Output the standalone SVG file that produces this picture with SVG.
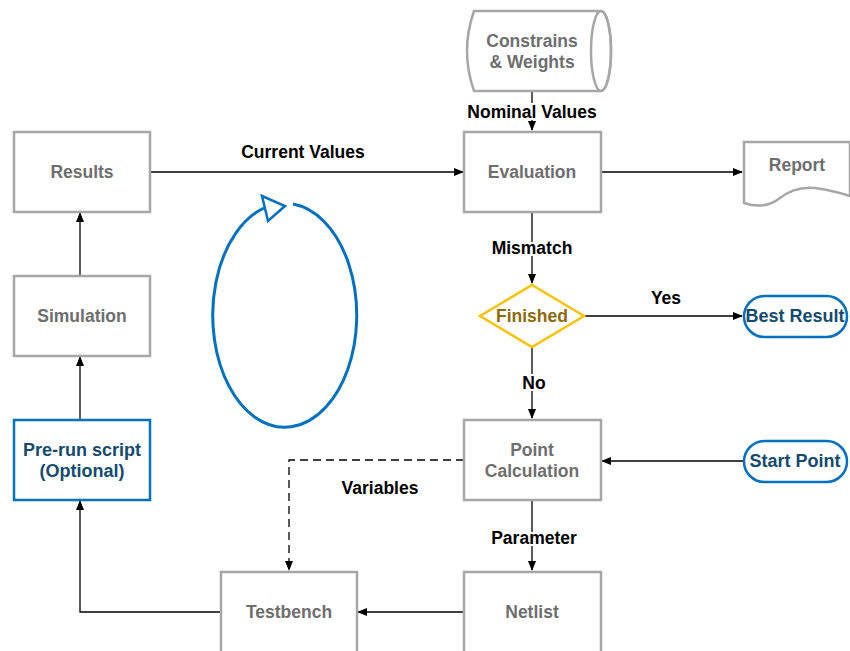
<svg xmlns="http://www.w3.org/2000/svg" width="850" height="651" viewBox="0 0 850 651">
<style>
.box{fill:#fff;stroke:#A6A6A6;stroke-width:2.5}
.blue{fill:#fff;stroke:#0070C0;stroke-width:2.5}
.gt{font-family:"Liberation Sans",Arial,sans-serif;font-weight:bold;font-size:17.5px;fill:#6E6E6E;text-anchor:middle}
.bt{font-family:"Liberation Sans",Arial,sans-serif;font-weight:bold;font-size:18px;fill:#134A6E;text-anchor:middle}
.lbl{font-family:"Liberation Sans",Arial,sans-serif;font-weight:bold;font-size:17.5px;fill:#000;text-anchor:middle;stroke:#fff;stroke-width:4;paint-order:stroke}
.c{fill:none;stroke:#000;stroke-width:1.3}
</style>
<defs>
<marker id="ah" markerWidth="10" markerHeight="10" refX="9" refY="5" orient="auto" markerUnits="userSpaceOnUse">
<path d="M0,1 L10,5 L0,9 Z" fill="#000"/>
</marker>
</defs>
<rect width="850" height="651" fill="#fff"/>
<g id="connectors">
<path class="c" d="M532,92 V130" marker-end="url(#ah)"/>
<path class="c" d="M150,172 H463" marker-end="url(#ah)"/>
<path class="c" d="M601,172 H742" marker-end="url(#ah)"/>
<path class="c" d="M532,212 V283" marker-end="url(#ah)"/>
<path class="c" d="M585,316 H742" marker-end="url(#ah)"/>
<path class="c" d="M532,348 V418" marker-end="url(#ah)"/>
<path class="c" d="M743,461 H602" marker-end="url(#ah)"/>
<path class="c" d="M464,460 H289 V570" stroke-dasharray="8,5" marker-end="url(#ah)"/>
<path class="c" d="M532,500 V570" marker-end="url(#ah)"/>
<path class="c" d="M464,612 H358" marker-end="url(#ah)"/>
<path class="c" d="M221,612 H80 V501" marker-end="url(#ah)"/>
<path class="c" d="M80,419 V357" marker-end="url(#ah)"/>
<path class="c" d="M80,276 V213" marker-end="url(#ah)"/>
<text class="lbl" x="532" y="118">Nominal Values</text>
<text class="lbl" x="303" y="158">Current Values</text>
<text class="lbl" x="532" y="254">Mismatch</text>
<text class="lbl" x="666" y="304">Yes</text>
<text class="lbl" x="534" y="389">No</text>
<text class="lbl" x="380" y="494">Variables</text>
<text class="lbl" x="534" y="544">Parameter</text>
</g>
<g id="loop">
<path d="M293,204 A72,112 0 1 1 264,208" fill="none" stroke="#0070C0" stroke-width="3"/>
<path d="M262,196 L285,206 L268,221 Z" fill="#fff" stroke="#0070C0" stroke-width="2.5" stroke-linejoin="miter"/>
</g>
<g id="constraints">
<path class="box" d="M474,11 H601 A10,40 0 0 1 601,91 H474 Q460,51 474,11 Z"/>
<ellipse cx="601" cy="51" rx="10" ry="40" fill="none" stroke="#A6A6A6" stroke-width="2.5"/>
<text class="gt" x="532" y="47">Constrains</text>
<text class="gt" x="532" y="68">&amp; Weights</text>
</g>
<g id="results"><rect class="box" x="14" y="132" width="136" height="80"/><text class="gt" x="82" y="178">Results</text></g>
<g id="simulation"><rect class="box" x="14" y="276" width="136" height="80"/><text class="gt" x="82" y="322">Simulation</text></g>
<g id="prerun"><rect class="blue" x="14" y="420" width="136" height="80"/><text class="bt" x="82" y="456">Pre-run script</text><text class="bt" x="82" y="477">(Optional)</text></g>
<g id="evaluation"><rect class="box" x="464" y="132" width="137" height="80"/><text class="gt" x="532" y="178">Evaluation</text></g>
<g id="report">
<path class="box" d="M744,142 H850 V196 Q835,191 815,188 Q795,186 780,198 Q765,210 744,203 Z"/>
<text class="gt" x="797" y="171">Report</text>
</g>
<g id="finished">
<path d="M532,285 L584,316 L532,347 L480,316 Z" fill="#fff" stroke="#FFC000" stroke-width="2.5"/>
<text class="gt" x="532" y="322" style="fill:#8C6A0A">Finished</text>
</g>
<g id="bestresult"><rect class="blue" x="744" y="296" width="103" height="41" rx="20.5"/><text class="bt" x="795" y="322">Best Result</text></g>
<g id="pointcalc"><rect class="box" x="464" y="420" width="137" height="80"/><text class="gt" x="532" y="456">Point</text><text class="gt" x="532" y="477">Calculation</text></g>
<g id="startpoint"><rect class="blue" x="744" y="441" width="103" height="41" rx="20.5"/><text class="bt" x="795" y="467">Start Point</text></g>
<g id="testbench"><rect class="box" x="221" y="572" width="136" height="90"/><text class="gt" x="289" y="618">Testbench</text></g>
<g id="netlist"><rect class="box" x="464" y="572" width="137" height="90"/><text class="gt" x="532" y="618">Netlist</text></g>
</svg>
